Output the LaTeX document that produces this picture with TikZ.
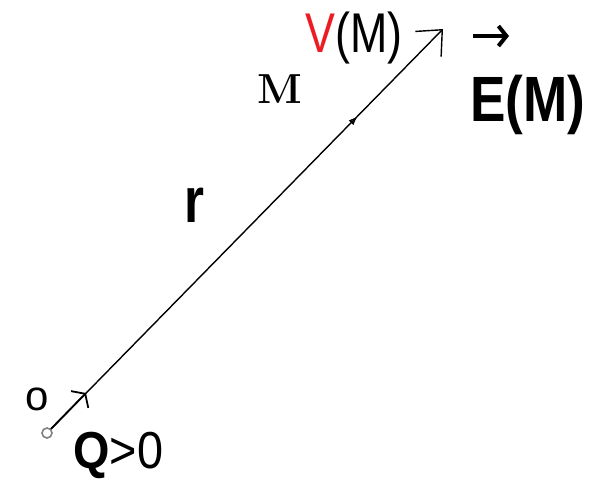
\documentclass[tikz,border=0pt]{standalone}
\usepackage{fontspec}
\setsansfont{Liberation Sans}
\usetikzlibrary{arrows.meta,decorations.markings}
\definecolor{potred}{RGB}{237,28,36}

\begin{document}
\begin{tikzpicture}[x=0.5pt, y=-0.5pt,
    lab/.style={font=\sffamily\fontsize{#1}{#1}\selectfont, inner sep=0pt, anchor=base west}]
    \useasboundingbox (0,0) rectangle (590,488);

    % Charge at the origin, field point M
    \node[circle, draw=gray, thick, inner sep=0pt, minimum size=5pt] (O) at (47,433) {};
    \coordinate (dir) at (86,393);
    \coordinate (tip) at (443,29);

    % Position vector r, marker at M
    \draw[line width=0.7pt, -{Straight Barb[length=10pt,width=18pt]},
        postaction={decorate},
        decoration={markings, mark=at position 0.78 with {\arrow{Triangle[open,length=4pt,width=3pt]}}}]
        (O) -- (tip);
    \draw[line width=0.9pt, -{Straight Barb[length=4pt,width=12pt]}] (O) -- (dir);

    % Labels
    \node[lab=21] (o) at (25,410) {o};
    \node[lab=26] (Q) at (73,468) {\scalebox{0.9}[1]{\textbf{Q}>0}};
    \node[lab=32] (r) at (184,222) {\scalebox{0.8}[1]{\textbf{r}}};
    \node[font=\fontsize{21}{21}\selectfont\bfseries, inner sep=0pt, anchor=base west] (M) at (257,103) {M};
    \node[lab=28] (V) at (305,52) {\scalebox{0.8}[1]{\textcolor{potred}{V}(M)}};
    \draw[line width=2pt, -{Straight Barb[length=4pt,width=10pt]}] (473,36) -- (509,36);
    \node[lab=32] (E) at (470,121) {\scalebox{0.83}[1]{\textbf{E(M)}}};
\end{tikzpicture}
\end{document}
